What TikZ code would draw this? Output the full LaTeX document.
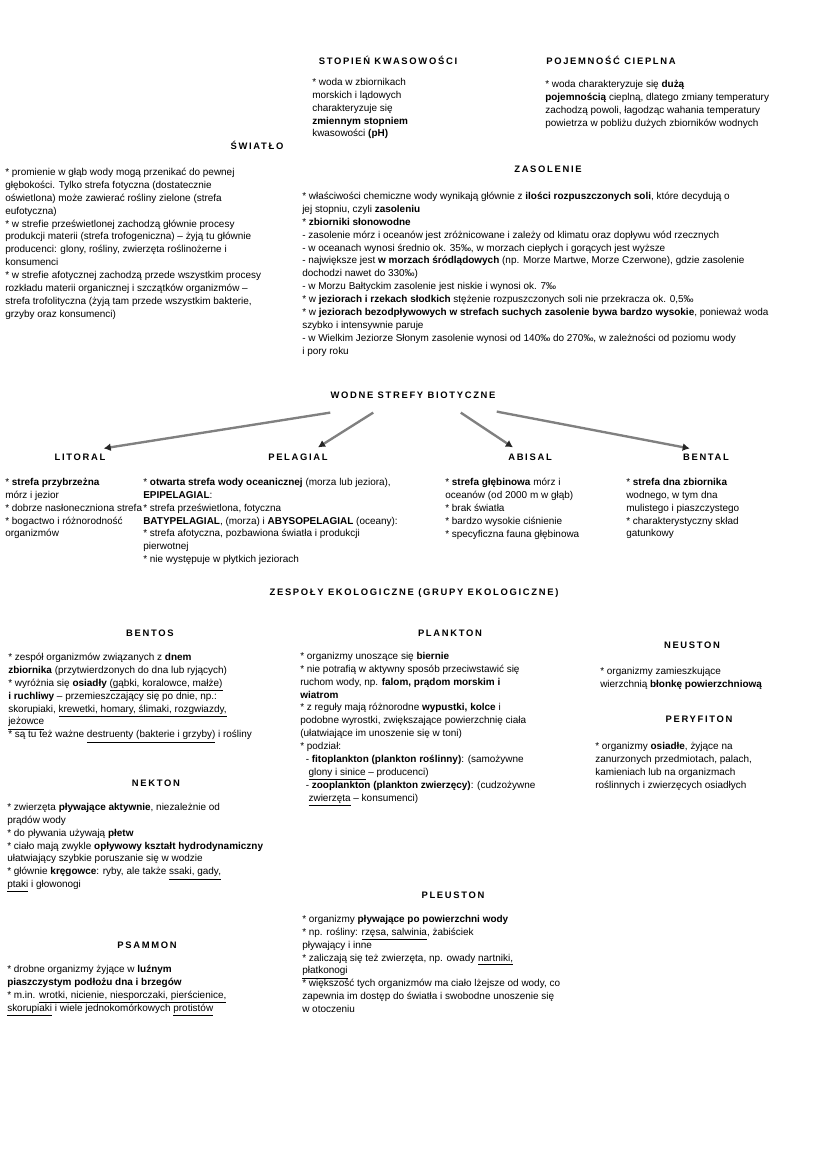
\documentclass[tikz,border=0pt]{standalone}
\usepackage{fontspec}
\setmainfont{Liberation Sans}
\usetikzlibrary{arrows.meta}
\newcommand{\tekstfont}{\fontsize{7.2}{9.3}\selectfont}
\newcommand{\naglowekfont}{\fontsize{6.8}{8}\selectfont\bfseries\addfontfeature{LetterSpace=18}}

\begin{document}
\begin{tikzpicture}[x=0.254mm, y=-0.254mm,
  tekst/.style={anchor=north west, inner sep=0pt, align=left, font=\tekstfont},
  naglowek/.style={inner sep=0pt, font=\naglowekfont},
  strzalka/.style={draw=black!50, line width=0.6mm, -{Latex[length=1.8mm,width=2mm,color=black!85]}}]
\useasboundingbox (0,0) rectangle (826,1169);

\path (388,60) node[naglowek] (kwas) {STOPIEŃ KWASOWOŚCI}
		(611,60) node[naglowek] (cieplo) {POJEMNOŚĆ CIEPLNA}
		(257,145) node[naglowek] (swiatlo) {ŚWIATŁO}
		(548,169) node[naglowek] (zasol) {ZASOLENIE}
		(413,395) node[naglowek] (strefy) {WODNE STREFY BIOTYCZNE}
		(80,457) node[naglowek] (litoral) {LITORAL}
		(298,457) node[naglowek] (pelagial) {PELAGIAL}
		(530,457) node[naglowek] (abisal) {ABISAL}
		(706,457) node[naglowek] (bental) {BENTAL}
		(414,593) node[naglowek] (zespoly) {ZESPOŁY EKOLOGICZNE (GRUPY EKOLOGICZNE)}
		(150,633) node[naglowek] (bentos) {BENTOS}
		(450,633) node[naglowek] (plankton) {PLANKTON}
		(692,645) node[naglowek] (neuston) {NEUSTON}
		(699,719) node[naglowek] (peryfiton) {PERYFITON}
		(156,783) node[naglowek] (nekton) {NEKTON}
		(453,895) node[naglowek] (pleuston) {PLEUSTON}
		(147,945) node[naglowek] (psammon) {PSAMMON}
;

\path (312,78) node[tekst] (kwas-t) {* woda w zbiornikach\\ morskich i lądowych\\ charakteryzuje się\\ \textbf{zmiennym stopniem}\\ kwasowości \textbf{(pH)}}
		(545,80) node[tekst] (cieplo-t) {* woda charakteryzuje się \textbf{dużą}\\ \textbf{pojemnością} cieplną, dlatego zmiany temperatury\\ zachodzą powoli, łagodząc wahania temperatury\\ powietrza w pobliżu dużych zbiorników wodnych}
		(5,168) node[tekst] (swiatlo-t) {* promienie w głąb wody mogą przenikać do pewnej\\ głębokości. Tylko strefa fotyczna (dostatecznie\\ oświetlona) może zawierać rośliny zielone (strefa\\ eufotyczna)\\ * w strefie prześwietlonej zachodzą głównie procesy\\ produkcji materii (strefa trofogeniczna) – żyją tu głównie\\ producenci: glony, rośliny, zwierzęta roślinożerne i\\ konsumenci\\ * w strefie afotycznej zachodzą przede wszystkim procesy\\ rozkładu materii organicznej i szczątków organizmów –\\ strefa trofolityczna (żyją tam przede wszystkim bakterie,\\ grzyby oraz konsumenci)}
		(302,192) node[tekst] (zasol-t) {* właściwości chemiczne wody wynikają głównie z \textbf{ilości rozpuszczonych soli}, które decydują o\\ jej stopniu, czyli \textbf{zasoleniu}\\ * \textbf{zbiorniki słonowodne}\\ - zasolenie mórz i oceanów jest zróżnicowane i zależy od klimatu oraz dopływu wód rzecznych\\ - w oceanach wynosi średnio ok. 35‰, w morzach ciepłych i gorących jest wyższe\\ - największe jest \textbf{w morzach śródlądowych} (np. Morze Martwe, Morze Czerwone), gdzie zasolenie\\ dochodzi nawet do 330‰)\\ - w Morzu Bałtyckim zasolenie jest niskie i wynosi ok. 7‰\\ * w \textbf{jeziorach i rzekach słodkich} stężenie rozpuszczonych soli nie przekracza ok. 0,5‰\\ * w \textbf{jeziorach bezodpływowych w strefach suchych} \textbf{zasolenie bywa bardzo wysokie}, ponieważ woda\\ szybko i intensywnie paruje\\ - w Wielkim Jeziorze Słonym zasolenie wynosi od 140‰ do 270‰, w zależności od poziomu wody\\ i pory roku}
		(5,478) node[tekst] (litoral-t) {* \textbf{strefa przybrzeżna}\\ mórz i jezior\\ * dobrze nasłoneczniona strefa\\ * bogactwo i różnorodność\\ organizmów}
		(143,478) node[tekst] (pelagial-t) {* \textbf{otwarta strefa wody oceanicznej} (morza lub jeziora),\\ \textbf{EPIPELAGIAL}:\\ * strefa prześwietlona, fotyczna\\ \textbf{BATYPELAGIAL}, (morza) i \textbf{ABYSOPELAGIAL} (oceany):\\ * strefa afotyczna, pozbawiona światła i produkcji\\ pierwotnej\\ * nie występuje w płytkich jeziorach}
		(445,478) node[tekst] (abisal-t) {* \textbf{strefa głębinowa} mórz i\\ oceanów (od 2000 m w głąb)\\ * brak światła\\ * bardzo wysokie ciśnienie\\ * specyficzna fauna głębinowa}
		(626,478) node[tekst] (bental-t) {* \textbf{strefa dna zbiornika}\\ wodnego, w tym dna\\ mulistego i piaszczystego\\ * charakterystyczny skład\\ gatunkowy}
		(8,653) node[tekst] (bentos-t) {* zespół organizmów związanych z \textbf{dnem}\\ \textbf{zbiornika} (przytwierdzonych do dna lub ryjących)\\ * wyróżnia się \textbf{osiadły} \underline{(gąbki, koralowce, małże)}\\ \textbf{i ruchliwy} – przemieszczający się po dnie, np.:\\ skorupiaki, \underline{krewetki, homary, ślimaki, rozgwiazdy,}\\ \underline{jeżowce}\\ * są tu też ważne \underline{destruenty (bakterie i grzyby)} i rośliny}
		(300,652) node[tekst] (plankton-t) {* organizmy unoszące się \textbf{biernie}\\ * nie potrafią w aktywny sposób przeciwstawić się\\ ruchom wody, np. \textbf{falom, prądom morskim i}\\ \textbf{wiatrom}\\ * z reguły mają różnorodne \textbf{wypustki, kolce} i\\ podobne wyrostki, zwiększające powierzchnię ciała\\ (ułatwiające im unoszenie się w toni)\\ * podział:\\ \ \ - \textbf{fitoplankton (plankton roślinny)}: (samożywne\\ \ \ \ \underline{glony i sinice} – producenci)\\ \ \ - \textbf{zooplankton (plankton zwierzęcy)}: (cudzożywne\\ \ \ \ \underline{zwierzęta} – konsumenci)}
		(600,667) node[tekst] (neuston-t) {* organizmy zamieszkujące\\ wierzchnią \textbf{błonkę powierzchniową}}
		(595,742) node[tekst] (peryfiton-t) {* organizmy \textbf{osiadłe}, żyjące na\\ zanurzonych przedmiotach, palach,\\ kamieniach lub na organizmach\\ roślinnych i zwierzęcych osiadłych}
		(7,803) node[tekst] (nekton-t) {* zwierzęta \textbf{pływające aktywnie}, niezależnie od\\ prądów wody\\ * do pływania używają \textbf{płetw}\\ * ciało mają zwykle \textbf{opływowy kształt hydrodynamiczny}\\ ułatwiający szybkie poruszanie się w wodzie\\ * głównie \textbf{kręgowce}: ryby, ale także \underline{ssaki, gady,}\\ \underline{ptaki} i głowonogi}
		(302,915) node[tekst] (pleuston-t) {* organizmy \textbf{pływające po powierzchni wody}\\ * np. rośliny: \underline{rzęsa, salwinia}, żabiściek\\ pływający i inne\\ * zaliczają się też zwierzęta, np. owady \underline{nartniki,}\\ \underline{płatkonogi}\\ * większość tych organizmów ma ciało lżejsze od wody, co\\ zapewnia im dostęp do światła i swobodne unoszenie się\\ w otoczeniu}
		(7,965) node[tekst] (psammon-t) {* drobne organizmy żyjące w \textbf{luźnym}\\ \textbf{piaszczystym podłożu dna i brzegów}\\ * m.in. \underline{wrotki, nicienie, niesporczaki, pierścienice,}\\ \underline{skorupiaki} i wiele jednokomórkowych \underline{protistów}}
;

\draw[strzalka] ([shift={(0,14)}]strefy.south west) -- ([shift={(-2,-5)}]litoral.north east);
\draw[strzalka] ([shift={(43,14)}]strefy.south west) -- ([shift={(-10,-6)}]pelagial.north east);
\draw[strzalka] ([shift={(-35,14)}]strefy.south east) -- ([shift={(5,-6)}]abisal.north west);
\draw[strzalka] ([shift={(1,13)}]strefy.south east) -- ([shift={(7,-5)}]bental.north west);

\end{tikzpicture}
\end{document}
